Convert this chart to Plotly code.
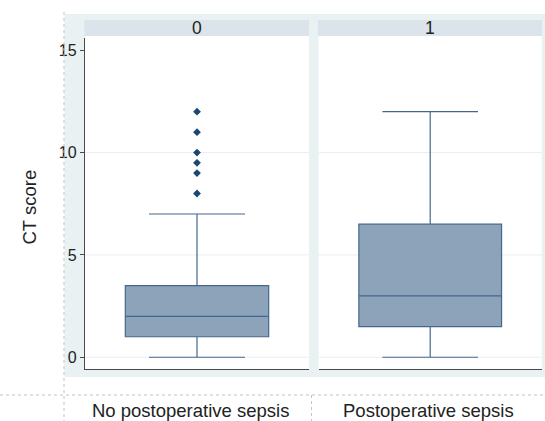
import plotly.graph_objects as go

# ---- data ----
groups = ["No postoperative sepsis", "Postoperative sepsis"]
panel_labels = ["0", "1"]
q1 = [1.0, 1.5]
median = [2.0, 3.0]
q3 = [3.5, 6.5]
lower_whisker = [0.0, 0.0]
upper_whisker = [7.0, 12.0]
outliers_group0 = [8, 9, 9.5, 10, 11, 12]
y_ticks = [0, 5, 10, 15]
grid_vals = [0, 5, 10]

W, H = 545, 421
def px(x):
    return x / W
def py(y):
    return 1 - y / H

FONT = "Liberation Sans, Arial, Helvetica, sans-serif"
BOX_FILL = "rgb(141,163,185)"
BOX_LINE = "rgb(70,103,140)"
MARK = "rgb(26,71,115)"
OUTER_BG = "#eaf1f3"
STRIP = "#dae4ea"
AXIS = "#4a4a4a"
GRID = "#e6eff1"

fig = go.Figure()

xaxes = ["x", "x2"]
yaxes = ["y", "y2"]
for i in range(2):
    fig.add_trace(go.Box(
        x=[0], q1=[q1[i]], median=[median[i]], q3=[q3[i]],
        lowerfence=[lower_whisker[i]], upperfence=[upper_whisker[i]],
        width=0.64, whiskerwidth=0.67, boxpoints=False,
        fillcolor=BOX_FILL, line=dict(color=BOX_LINE, width=1.2),
        xaxis=xaxes[i], yaxis=yaxes[i], showlegend=False, hoverinfo="skip",
    ))

fig.add_trace(go.Scatter(
    x=[0] * len(outliers_group0), y=outliers_group0, mode="markers",
    marker=dict(symbol="diamond", size=6, color=MARK),
    xaxis="x", yaxis="y", showlegend=False, hoverinfo="skip",
))

# plot-area geometry (pixels)
p0 = (85, 309)
p1 = (318.7, 541.7)
top, bottom = 38, 369.3
yrange = [-0.59, 15.6]

common_x = dict(range=[-0.5, 0.5], showgrid=False, zeroline=False,
                showticklabels=False, ticks="", showline=True,
                linecolor=AXIS, linewidth=1.3, fixedrange=True)
fig.update_layout(
    width=W, height=H,
    margin=dict(l=0, r=0, t=0, b=0),
    paper_bgcolor="white", plot_bgcolor="rgba(0,0,0,0)",
    font=dict(family=FONT, color="#222"),
    showlegend=False,
    xaxis=dict(domain=[px(p0[0]), px(p0[1])], anchor="y", **common_x),
    xaxis2=dict(domain=[px(p1[0]), px(p1[1])], anchor="y2", **common_x),
    yaxis=dict(domain=[py(bottom), py(top)], range=yrange, anchor="x",
               tickvals=y_ticks, ticktext=[str(t) for t in y_ticks],
               ticks="outside", ticklen=4, tickcolor=AXIS,
               showline=True, linecolor=AXIS, linewidth=1.3,
               showgrid=False, zeroline=False,
               tickfont=dict(size=16, color="#222", family=FONT)),
    yaxis2=dict(domain=[py(bottom), py(top)], range=yrange, anchor="x2",
                matches="y", showticklabels=False,
                ticks="", showline=False, showgrid=False, zeroline=False),
)

shapes = []
# outer graph region
shapes.append(dict(type="rect", xref="paper", yref="paper",
                   x0=px(64.3), x1=px(545), y0=py(377), y1=py(14),
                   fillcolor=OUTER_BG, line=dict(width=0), layer="below"))
# white plot areas and strips
for (a, b) in (p0, p1):
    shapes.append(dict(type="rect", xref="paper", yref="paper",
                       x0=px(a), x1=px(b), y0=py(bottom), y1=py(36),
                       fillcolor="white", line=dict(width=0), layer="below"))
for (a, b) in ((84.3, 309), (318, 542)):
    shapes.append(dict(type="rect", xref="paper", yref="paper",
                       x0=px(a), x1=px(b), y0=py(36), y1=py(20),
                       fillcolor=STRIP, line=dict(width=0), layer="below"))
# gridlines at 0, 5, 10 in both panels
for xa, ya in (("x", "y"), ("x2", "y2")):
    for g in grid_vals:
        shapes.append(dict(type="line", xref=f"{xa} domain", yref=ya,
                           x0=0, x1=1, y0=g, y1=g,
                           line=dict(color=GRID, width=1), layer="below"))
# dotted table lines
dot = dict(color="#c4c4c4", width=1, dash="dot")
shapes.append(dict(type="line", xref="paper", yref="paper",
                   x0=0, x1=1, y0=py(395), y1=py(395), line=dot))
shapes.append(dict(type="line", xref="paper", yref="paper",
                   x0=px(64), x1=px(64), y0=py(12), y1=0, line=dot))
shapes.append(dict(type="line", xref="paper", yref="paper",
                   x0=px(311.5), x1=px(311.5), y0=py(395), y1=0, line=dot))
fig.update_layout(shapes=shapes)

ann = []
for i, cx in enumerate((197, 430)):
    ann.append(dict(text=panel_labels[i], xref="paper", yref="paper",
                    x=px(cx), y=py(28), showarrow=False,
                    xanchor="center", yanchor="middle",
                    font=dict(size=17.5, color="#222", family=FONT)))
for i, cx in enumerate((190, 428)):
    ann.append(dict(text=groups[i], xref="paper", yref="paper",
                    x=px(cx), y=py(410), showarrow=False,
                    xanchor="center", yanchor="middle",
                    font=dict(size=18.5, color="#222", family=FONT)))
ann.append(dict(text="CT score", xref="paper", yref="paper",
                x=px(28.5), y=py(207), showarrow=False, textangle=-90,
                xanchor="center", yanchor="middle",
                font=dict(size=18.5, color="#222", family=FONT)))
fig.update_layout(annotations=ann)

fig.write_html("out.html")
